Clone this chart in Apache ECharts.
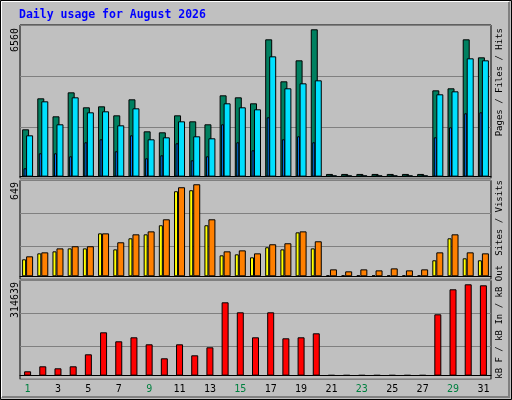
<!DOCTYPE html>
<html><head><meta charset="utf-8">
<script src="https://cdn.jsdelivr.net/npm/echarts@6/dist/echarts.min.js"></script>
<style>html,body{margin:0;padding:0;background:#c0c0c0}#c{width:512px;height:400px}</style>
</head><body><div id="c"></div>
<script>
const days = ['1','2','3','4','5','6','7','8','9','10','11','12','13','14','15','16','17','18','19','20','21','22','23','24','25','26','27','28','29','30','31'];
const weekend = ['1','2','8','9','15','16','22','23','29','30'];
const hits  = [2107,3487,2686,3754,3087,3131,2730,3443,2018,1974,2730,2463,2330,3621,3532,3265,6114,4244,5179,6560,120,120,120,120,120,120,120,3843,3933,6114,5313];
const files = [1840,3354,2330,3532,2864,2909,2285,3042,1662,1751,2463,1796,1707,3265,3087,2998,5357,3933,4155,4289,60,60,60,60,60,60,60,3666,3799,5268,5179];
const pages = [371,1039,1039,905,1529,1662,1128,1840,816,950,1484,727,905,2330,1529,1172,2642,1662,1796,1529,20,20,20,20,20,20,20,1751,2196,2820,2864];
const visits= [120,162,176,197,197,303,190,268,296,360,600,607,360,148,155,134,205,190,310,197,7,7,7,7,7,7,7,113,268,127,113];
const sites = [141,169,197,212,212,303,240,296,317,402,628,649,402,176,183,162,226,233,317,247,49,35,49,42,56,42,49,169,296,169,162];
const kbytes= [14928,32152,25263,32152,73491,149280,118276,132055,107941,59712,107941,70047,97606,252626,218177,132055,218177,128610,132055,145834,2000,2000,2000,2000,2000,2000,2000,211287,297410,314639,311189];
const maxLabels = ['6560','649','314639'];

const F = 'DejaVu Sans Mono';
const chart = echarts.init(document.getElementById('c'));
const grids = [
  {left:20,right:21,top:25,height:153.3},
  {left:20,right:21,top:180.3,height:99},
  {left:20,right:21,top:280.3,height:99}
];
const ranges = [[-74,6752],[-21,677],[-12631,328420]];
function xa(g, show){
  return {type:'category',data:days,gridIndex:g,
    axisLine:{show:g<4,lineStyle:{color:'#000'}},axisTick:{show:false},
    axisLabel:{show:show,fontFamily:F,fontSize:10,margin:5,
      color:(v)=>weekend.includes(v)?'#008040':'#000'}};
}
const xAxis=[xa(0,false),xa(1,false),xa(2,true),
  Object.assign(xa(0,false),{axisLine:{show:false}})];
const yAxis=ranges.map((r,i)=>({type:'value',gridIndex:i,min:r[0],max:r[1],interval:(r[1]-r[0])/3,
  axisLabel:{show:false},axisLine:{show:false},axisTick:{show:false},
  splitLine:{show:true,lineStyle:{color:'#808080',width:1}}}));
yAxis.push({type:'value',gridIndex:0,min:ranges[0][0],max:ranges[0][1],show:false,splitLine:{show:false}});
const bs={borderColor:'#000',borderWidth:1};
const series=[
  {type:'bar',name:'Hits',data:hits,xAxisIndex:0,yAxisIndex:0,barWidth:7,barGap:'-43%',itemStyle:Object.assign({color:'#008060'},bs),z:2},
  {type:'bar',name:'Files',data:files,xAxisIndex:0,yAxisIndex:0,barWidth:7,itemStyle:Object.assign({color:'#00e0ff'},bs),z:4},
  {type:'bar',name:'Pages',data:pages,xAxisIndex:3,yAxisIndex:3,barWidth:3,barGap:'0%',itemStyle:Object.assign({color:'#0080ff'},bs),z:3},
  {type:'bar',name:'dummy',data:days.map(()=>'-'),xAxisIndex:3,yAxisIndex:3,barWidth:5},
  {type:'bar',name:'Visits',data:visits,xAxisIndex:1,yAxisIndex:1,barWidth:4,barGap:'0%',itemStyle:Object.assign({color:'#ffff00'},bs)},
  {type:'bar',name:'Sites',data:sites,xAxisIndex:1,yAxisIndex:1,barWidth:7,itemStyle:Object.assign({color:'#ff8000'},bs)},
  {type:'bar',name:'kB F',data:kbytes,xAxisIndex:2,yAxisIndex:2,barWidth:7,itemStyle:Object.assign({color:'#ff0000'},bs)}
];
const rot=Math.PI/2;
function vtext(x,y,rich,text,size){
  return {type:'text',x:x,y:y,rotation:rot,style:{text:text,rich:rich,font:size+'px '+F,align:'right',verticalAlign:'middle',fill:'#000'}};
}
const richBase={fontFamily:F,fontSize:9};
const sep={color:'#606060',fontFamily:F,fontSize:9};
const graphic=[
  {type:'rect',shape:{x:0.5,y:0.5,width:511,height:399},style:{fill:'none',stroke:'#000',lineWidth:1}},
  {type:'polyline',shape:{points:[[2,397],[509,397],[509,2]]},style:{stroke:'#808080',lineWidth:2,fill:'none'}},
  {type:'polyline',shape:{points:[[1.5,397],[1.5,1.5],[509,1.5]]},style:{stroke:'#ffffff',lineWidth:1,fill:'none'}},
  {type:'text',x:19,y:15,style:{text:'Daily usage for August 2026',font:'bold 11.5px '+F,fill:'#0000ff',verticalAlign:'middle'}},
  vtext(15,28,null,maxLabels[0],10),
  vtext(15,182,null,maxLabels[1],10),
  vtext(15,282,null,maxLabels[2],10),
  vtext(500,28,{p:Object.assign({color:'#00e0ff'},richBase),f:Object.assign({color:'#0080ff'},richBase),h:Object.assign({color:'#008060'},richBase),s:sep},'{p|Pages}{s| / }{f|Files}{s| / }{h|Hits}',9),
  vtext(500,180,{v:Object.assign({color:'#ffff00'},richBase),t:Object.assign({color:'#ff8000'},richBase),s:sep},'{t|Sites}{s| / }{v|Visits}',9),
  vtext(500,265,{r:Object.assign({color:'#ff0000'},richBase),i:Object.assign({color:'#0080ff'},richBase),o:Object.assign({color:'#00c000'},richBase),s:sep},'{r|kB F}{s| / }{i|kB In}{s| / }{o|kB Out}',9)
];
chart.setOption({animation:false,backgroundColor:'#c0c0c0',
  grid:grids.map(g=>Object.assign({show:true,borderColor:'#000',borderWidth:1,backgroundColor:'transparent'},g)),
  xAxis:xAxis,yAxis:yAxis,series:series,graphic:graphic});
</script></body></html>
